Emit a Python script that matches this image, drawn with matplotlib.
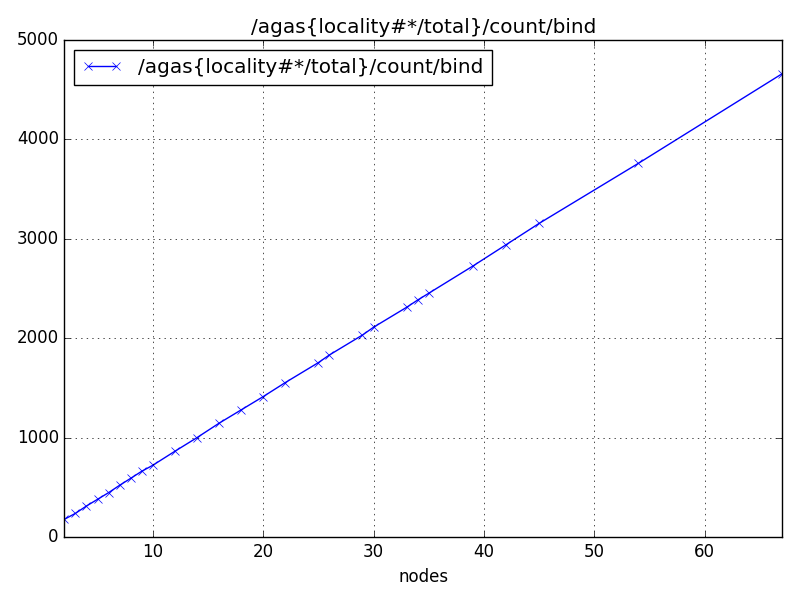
import matplotlib
matplotlib.use("Agg")
import matplotlib.pyplot as plt

plt.style.use("classic")

nodes = [2, 3, 4, 5, 6, 7, 8, 9, 10, 12, 14, 16, 18, 20, 22, 25, 26, 29, 30,
         33, 34, 35, 39, 42, 45, 54, 67]
counts = [178, 238, 312, 379, 446, 520, 590, 661, 721, 862, 999, 1144, 1278,
          1412, 1553, 1754, 1831, 2032, 2110, 2311, 2384, 2452, 2726, 2940,
          3155, 3760, 4660]
label = "/agas{locality#*/total}/count/bind"

fig = plt.figure(figsize=(8, 6), dpi=100)
ax = fig.add_subplot(111)
ax.plot(nodes, counts, "bx-", label=label)
ax.set_xlim(2, 67)
ax.set_ylim(0, 5000)
ax.set_title(label)
ax.set_xlabel("nodes")
ax.grid(True)
ax.legend(loc="upper left")
fig.subplots_adjust(left=0.0805, right=0.9775, top=0.9333, bottom=0.105)
fig.savefig("out.png", dpi=100)
